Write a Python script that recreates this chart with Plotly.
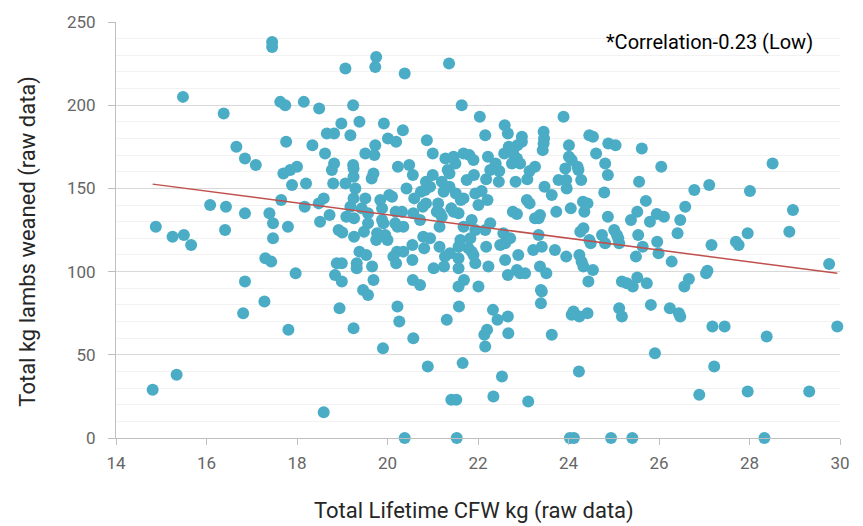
import plotly.graph_objects as go

cfw_kg = [
    17.45, 17.45, 15.48, 16.38, 17.63, 17.74, 18.15, 17.76, 16.66, 16.85,
    17.09, 17.70, 17.85, 18.00, 17.89, 16.08, 16.43, 16.85, 17.39, 17.47,
    17.65, 14.88, 16.41, 17.80, 15.25, 15.50, 15.66, 17.47, 17.30, 17.43,
    17.97, 16.85, 17.28, 16.81, 17.81, 15.34, 14.81, 19.75, 19.73, 19.07,
    20.38, 21.36, 18.49, 19.24, 21.64, 22.04, 18.98, 19.38, 19.92, 20.34,
    18.66, 18.82, 19.18, 20.01, 20.19, 20.87, 18.34, 19.73, 19.51, 19.71,
    18.62, 21.00, 21.28, 21.46, 21.50, 21.68, 21.81, 21.90, 18.82, 19.24,
    19.25, 20.23, 20.48, 18.77, 20.56, 19.69, 19.65, 19.25, 21.00, 21.33,
    21.37, 21.91, 21.75, 18.20, 18.80, 19.07, 19.29, 20.85, 20.94, 20.83,
    21.20, 21.24, 21.37, 20.42, 20.74, 21.51, 21.94, 18.59, 19.25, 19.51,
    19.84, 20.04, 20.10, 20.59, 20.85, 20.78, 21.12, 21.62, 21.68, 18.17,
    18.48, 19.18, 19.43, 19.57, 19.88, 18.72, 19.09, 19.26, 20.18, 20.32,
    20.57, 21.09, 21.16, 21.20, 21.41, 21.46, 21.57, 21.86, 18.51, 19.57,
    19.88, 19.91, 20.17, 20.35, 20.72, 18.92, 19.00, 21.68, 19.26, 19.48,
    19.77, 19.75, 19.95, 20.00, 20.22, 21.15, 21.94, 20.79, 20.94, 20.81,
    20.55, 21.15, 21.61, 21.57, 21.83, 21.79, 21.38, 21.27, 21.57, 21.90,
    21.94, 20.21, 20.35, 20.13, 20.19, 20.55, 21.02, 21.25, 21.57, 19.38,
    19.53, 19.32, 19.32, 19.66, 18.88, 18.99, 18.84, 18.99, 19.69, 20.56,
    20.72, 21.69, 21.57, 22.01, 19.46, 19.57, 18.94, 20.22, 21.58, 19.25,
    20.26, 21.31, 20.57, 19.90, 20.89, 21.66, 21.41, 21.52, 18.59, 20.38,
    21.53, 23.89, 22.59, 22.66, 22.16, 22.97, 22.97, 23.45, 23.46, 23.45,
    23.43, 24.46, 24.54, 24.88, 25.04, 25.62, 24.61, 24.01, 22.68, 22.75,
    22.87, 22.58, 22.78, 22.86, 22.75, 22.93, 22.22, 22.39, 22.47, 22.27,
    22.18, 22.46, 22.83, 23.09, 23.14, 23.26, 24.01, 24.07, 23.93, 24.20,
    24.22, 24.81, 23.78, 23.95, 23.96, 24.28, 24.87, 25.56, 23.47, 23.63,
    22.08, 22.21, 22.01, 24.79, 25.71, 25.95, 23.08, 23.14, 22.77, 22.86,
    23.26, 23.37, 23.34, 23.73, 24.05, 24.32, 24.42, 24.35, 24.87, 25.52,
    25.38, 25.80, 22.27, 24.33, 25.01, 22.16, 22.56, 22.64, 22.71, 22.49,
    22.60, 22.18, 21.86, 22.23, 22.60, 22.89, 22.86, 22.93, 23.04, 22.66,
    23.22, 23.41, 23.34, 23.37, 23.51, 23.39, 23.41, 23.39, 23.70, 23.95,
    24.26, 24.46, 24.49, 24.74, 24.81, 25.07, 25.12, 25.10, 24.24, 24.29,
    24.33, 24.54, 24.44, 25.54, 25.64, 25.49, 25.96, 25.99, 25.18, 25.29,
    25.42, 25.52, 25.73, 22.33, 22.43, 22.66, 22.20, 22.14, 22.67, 22.16,
    23.63, 24.11, 24.07, 24.24, 24.42, 25.12, 25.18, 25.82, 25.91, 22.53,
    22.34, 23.11, 24.23, 24.03, 24.12, 24.94, 25.41, 26.05, 26.78, 27.11,
    28.01, 28.51, 28.96, 26.11, 26.58, 26.47, 26.41, 26.28, 27.16, 27.70,
    27.76, 27.96, 28.88, 29.76, 27.04, 27.07, 26.66, 26.56, 26.24, 26.44,
    26.47, 27.18, 27.45, 28.38, 29.94, 27.22, 26.89, 27.96, 29.32, 28.33,
]

lambs_kg = [
    238, 235, 205, 195, 202, 200, 202, 178, 175, 168,
    164, 159, 161, 163, 152, 140, 139, 135, 135, 129,
    143, 127, 125, 127, 121, 122, 116, 120, 108, 106,
    99, 94, 82, 75, 65, 38, 29, 229, 223, 222,
    219, 225, 198, 200, 200, 193, 189, 190, 189, 185,
    183, 183, 182, 180, 178, 179, 176, 176, 171, 170,
    171, 171, 168, 169, 165, 171, 170, 167, 165, 164,
    162, 163, 164, 161, 158, 159, 156, 157, 158, 161,
    159, 158, 155, 153, 153, 153, 150, 154, 151, 149,
    154, 148, 151, 150, 148, 147, 147, 144, 144, 144,
    143, 146, 145, 144, 141, 139, 141, 143, 144, 139,
    141, 139, 138, 135, 138, 134, 133, 132, 136, 136,
    135, 136, 135, 133, 138, 136, 135, 131, 130, 129,
    131, 129, 129, 127, 131, 125, 123.5, 127, 121, 124,
    123, 119, 122, 119, 127, 127, 125, 121, 120, 114,
    116, 115, 119, 115, 120, 114, 111, 109, 108, 110,
    105, 112, 112, 109, 105, 107, 102, 103, 102, 112,
    110, 105, 102, 103, 105, 105, 98, 94, 95, 95,
    92, 95, 91, 91, 89, 86, 78, 79, 79, 66,
    70, 71, 60, 54, 43, 45, 23, 23, 15.5, 0,
    0, 193, 188, 183, 182, 181, 178, 184, 180, 177,
    173, 182, 181, 177, 176, 174, 171, 176, 175, 173,
    176, 171, 171, 168, 165, 165, 169, 165, 160.5, 161,
    155.5, 154, 154, 155.5, 160.5, 163, 169, 167, 162, 163,
    161, 165, 155, 155, 150, 155, 158, 154, 151, 146,
    148.5, 143, 140, 147.5, 142.5, 134.6, 143, 141, 136, 134.6,
    132, 134, 132, 136, 138, 142, 141, 136, 133, 136,
    131, 130, 129, 126, 125, 125, 123, 119, 120, 116,
    117, 115, 112, 103, 107, 110, 101, 99, 99, 98,
    113, 115, 122, 103, 99, 89, 88, 81, 113, 109,
    124, 119, 117, 122, 117, 122, 117, 120, 110, 106,
    103, 101, 94, 122, 115, 109, 118, 111, 94, 93,
    91, 96.5, 93, 77, 71, 73, 65, 62, 63, 55,
    62, 76, 74, 73, 75, 78, 73, 80, 51, 37,
    25, 22, 40, 0, 0, 0, 0, 163, 149, 152,
    148.5, 165, 137, 133, 139, 131, 123, 106, 116, 118,
    116, 123, 124, 104.5, 99, 100.5, 95.5, 91, 78, 75,
    73, 67, 67, 61, 67, 43, 26, 28, 28, 0,
]

# linear trend
trend_slope = -3.54
trend_intercept = 205.0
x_ticks = [14, 16, 18, 20, 22, 24, 26, 28, 30]
y_ticks = [0, 50, 100, 150, 200, 250]
x_title = "Total Lifetime CFW kg (raw data)"
y_title = "Total kg lambs weaned (raw data)"
annotation_text = "*Correlation-0.23 (Low)"

FONT = "Roboto"

trend_x = [min(cfw_kg), max(cfw_kg)]
trend_y = [trend_intercept + trend_slope * v for v in trend_x]

fig = go.Figure()
fig.add_trace(go.Scatter(
    x=cfw_kg, y=lambs_kg, mode="markers",
    marker=dict(color="#4BACC6", size=12, line=dict(width=0)),
    cliponaxis=False, showlegend=False,
))
fig.add_trace(go.Scatter(
    x=trend_x, y=trend_y, mode="lines",
    line=dict(color="#C0504D", width=1.5),
    showlegend=False,
))

fig.update_layout(
    width=863, height=526,
    margin=dict(l=116, r=23, t=22, b=88),
    paper_bgcolor="white", plot_bgcolor="white",
    font=dict(family=FONT, size=16, color="#595959"),
    xaxis=dict(
        range=[14, 30], tickvals=x_ticks, ticktext=[str(t) for t in x_ticks],
        showgrid=False, zeroline=False, automargin=False,
        showline=True, linecolor="#BFBFBF", linewidth=1,
        ticks="outside", ticklen=6, tickcolor="#BFBFBF",
        ticklabelstandoff=4,
        tickfont=dict(family=FONT, size=17, color="#666666"),
    ),
    yaxis=dict(
        range=[0, 250], tickvals=y_ticks, ticktext=[str(t) for t in y_ticks],
        showgrid=True, gridcolor="#D9D9D9", gridwidth=1, zeroline=False,
        automargin=False,
        showline=True, linecolor="#BFBFBF", linewidth=1,
        ticks="outside", ticklen=7, tickcolor="#BFBFBF",
        ticklabelstandoff=9,
        minor=dict(dtick=10, showgrid=True, gridcolor="#F2F2F2", gridwidth=1),
        tickfont=dict(family=FONT, size=17, color="#666666"),
    ),
    annotations=[
        dict(text=annotation_text, xref="paper", yref="paper",
             x=0.966, y=0.952, xanchor="right", yanchor="middle",
             showarrow=False, font=dict(family=FONT, size=20, color="#000000")),
        dict(text=x_title, xref="paper", yref="paper",
             x=0.494, y=-0.176, xanchor="center", yanchor="middle",
             showarrow=False, font=dict(family=FONT, size=22, color="#262626")),
        dict(text=y_title, xref="paper", yref="paper", textangle=-90,
             x=-0.1215, y=0.472, xanchor="center", yanchor="middle",
             showarrow=False, font=dict(family=FONT, size=22, color="#262626")),
    ],
)

fig.write_html("out.html")
